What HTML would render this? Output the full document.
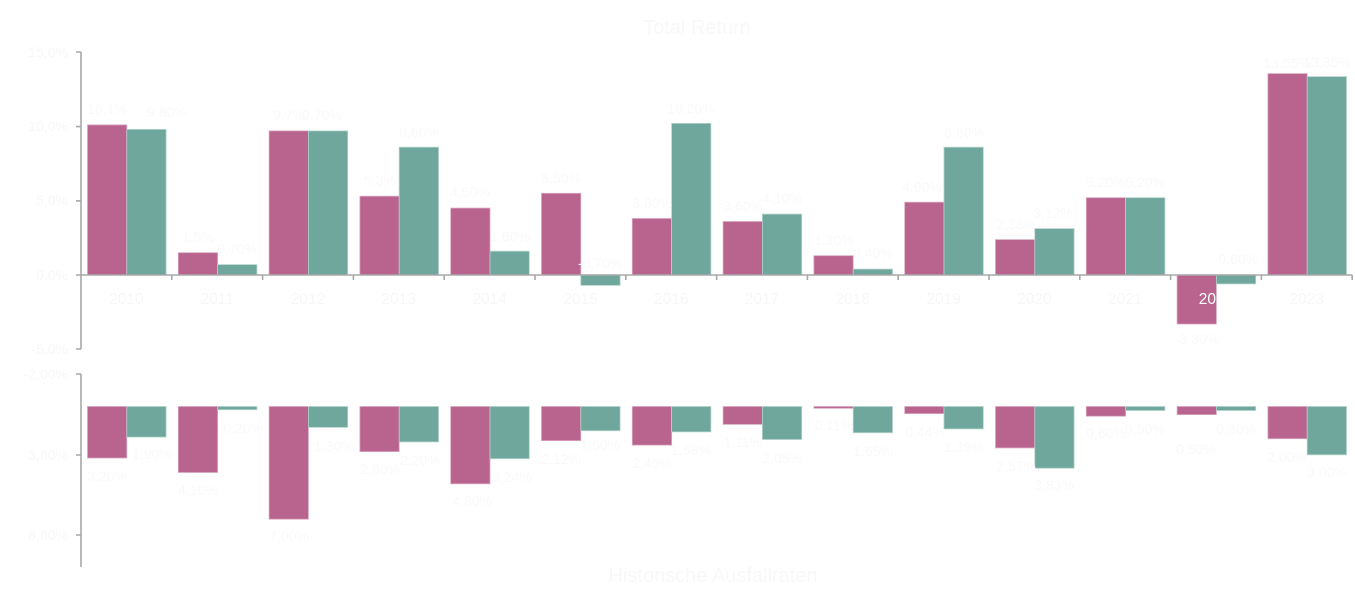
<!DOCTYPE html>
<html><head><meta charset="utf-8"><style>
html,body{margin:0;padding:0;background:#fff;}
svg{display:block;}
text{font-family:"Liberation Sans",sans-serif;}
.t{fill:#f8f8f8;font-size:20px;text-anchor:middle;}
.ax{fill:#f7f7f7;font-size:14px;text-anchor:end;}
.xl{fill:#f7f7f7;font-size:15.5px;text-anchor:middle;}
.dl{fill:#f9f9f9;font-size:14px;text-anchor:middle;}
.p{fill:#b8648f;stroke:#d9a6c0;stroke-width:0.8;}
.g{fill:#6fa79c;stroke:#b3d3cc;stroke-width:0.8;}
.a{stroke:#a8a8a8;stroke-width:1.6;fill:none;}
</style></head><body>
<svg width="1355" height="599" viewBox="0 0 1355 599" xmlns="http://www.w3.org/2000/svg">
<text class="t" x="697" y="34">Total Return</text>
<text class="t" x="713" y="582">Historische Ausfallraten</text>

<!-- top y axis -->
<path class="a" d="M81 52 V349 M76 52 H81 M76 126.6 H81 M76 200.9 H81 M76 275 H81 M76 349 H81"/>
<text class="ax" x="68" y="57">15,0%</text>
<text class="ax" x="68" y="131">10,0%</text>
<text class="ax" x="68" y="205">5,0%</text>
<text class="ax" x="68" y="280">0,0%</text>
<text class="ax" x="68" y="354">-5,0%</text>

<!-- top bars -->
<rect class="p" x="87.5" y="124.9" width="39.3" height="150.1"/><rect class="g" x="126.8" y="129.4" width="39.3" height="145.6"/>
<rect class="p" x="178.3" y="252.7" width="39.3" height="22.3"/><rect class="g" x="217.6" y="264.6" width="39.3" height="10.4"/>
<rect class="p" x="269.1" y="130.9" width="39.3" height="144.1"/><rect class="g" x="308.4" y="130.9" width="39.3" height="144.1"/>
<rect class="p" x="359.9" y="196.2" width="39.3" height="78.8"/><rect class="g" x="399.2" y="147.2" width="39.3" height="127.8"/>
<rect class="p" x="450.7" y="208.1" width="39.3" height="66.9"/><rect class="g" x="490.0" y="251.2" width="39.3" height="23.8"/>
<rect class="p" x="541.5" y="193.3" width="39.3" height="81.7"/><rect class="g" x="580.8" y="275" width="39.3" height="10.4"/>
<rect class="p" x="632.3" y="218.5" width="39.3" height="56.5"/><rect class="g" x="671.6" y="123.4" width="39.3" height="151.6"/>
<rect class="p" x="723.1" y="221.5" width="39.3" height="53.5"/><rect class="g" x="762.4" y="214.1" width="39.3" height="60.9"/>
<rect class="p" x="813.9" y="255.7" width="39.3" height="19.3"/><rect class="g" x="853.2" y="269.1" width="39.3" height="5.9"/>
<rect class="p" x="904.7" y="202.2" width="39.3" height="72.8"/><rect class="g" x="944.0" y="147.2" width="39.3" height="127.8"/>
<rect class="p" x="995.5" y="239.6" width="39.3" height="35.4"/><rect class="g" x="1034.8" y="228.6" width="39.3" height="46.4"/>
<rect class="p" x="1086.3" y="197.7" width="39.3" height="77.3"/><rect class="g" x="1125.6" y="197.7" width="39.3" height="77.3"/>
<rect class="p" x="1177.1" y="275" width="39.3" height="49"/><rect class="g" x="1216.4" y="275" width="39.3" height="8.9"/>
<rect class="p" x="1267.9" y="73.6" width="39.3" height="201.4"/><rect class="g" x="1307.2" y="76.6" width="39.3" height="198.4"/>

<!-- top x axis -->
<path class="a" d="M81 275 H1352.2 M171.8 275 V280 M262.6 275 V280 M353.4 275 V280 M444.2 275 V280 M535 275 V280 M625.8 275 V280 M716.6 275 V280 M807.4 275 V280 M898.2 275 V280 M989 275 V280 M1079.8 275 V280 M1170.6 275 V280 M1261.4 275 V280 M1352.2 275 V280"/>
<g class="xl">
<text x="126.4" y="304">2010</text><text x="217.2" y="304">2011</text><text x="308" y="304">2012</text><text x="398.8" y="304">2013</text>
<text x="489.6" y="304">2014</text><text x="580.4" y="304">2015</text><text x="671.2" y="304">2016</text><text x="762" y="304">2017</text>
<text x="852.8" y="304">2018</text><text x="943.6" y="304">2019</text><text x="1034.4" y="304">2020</text><text x="1125.2" y="304">2021</text>
<text x="1216" y="304" style="fill:#ffffff">2022</text><text x="1306.8" y="304">2023</text>
</g>

<!-- top data labels -->
<g class="dl">
<text x="107" y="114">10,1%</text><text x="167" y="117">9,80%</text>
<text x="198" y="242">1,5%</text><text x="237" y="254">0,70%</text>
<text x="289" y="120">9,7%</text><text x="322" y="120">9,70%</text>
<text x="380" y="185">5,3%</text><text x="419" y="137">8,60%</text>
<text x="470" y="197">4,50%</text><text x="510" y="241">1,60%</text>
<text x="561" y="183">5,50%</text><text x="600" y="268">-0,70%</text>
<text x="652" y="208">3,80%</text><text x="691" y="113">10,20%</text>
<text x="743" y="211">3,60%</text><text x="782" y="203">4,10%</text>
<text x="834" y="245">1,30%</text><text x="873" y="258">0,40%</text>
<text x="922" y="192">4,90%</text><text x="964" y="137">8,60%</text>
<text x="1016" y="229">2,38%</text><text x="1053" y="218">3,12%</text>
<text x="1106" y="187">5,20%</text><text x="1145" y="187">5,20%</text>
<text x="1197" y="344">-3,30%</text><text x="1236" y="264">-0,60%</text>
<text x="1287" y="68">13,55%</text><text x="1327" y="67">13,35%</text>
</g>

<!-- bottom y axis -->
<path class="a" d="M81 374 V567 M76 374 H81 M76 455 H81 M76 535 H81"/>
<text class="ax" x="68" y="379">-2,00%</text>
<text class="ax" x="68" y="460">3,00%</text>
<text class="ax" x="68" y="540">8,00%</text>

<!-- bottom bars -->
<rect class="p" x="87.5" y="406.5" width="39.3" height="51.5"/><rect class="g" x="126.8" y="406.5" width="39.3" height="30.6"/>
<rect class="p" x="178.3" y="406.5" width="39.3" height="66"/><rect class="g" x="217.6" y="406.5" width="39.3" height="3.2"/>
<rect class="p" x="269.1" y="406.5" width="39.3" height="112.7"/><rect class="g" x="308.4" y="406.5" width="39.3" height="20.9"/>
<rect class="p" x="359.9" y="406.5" width="39.3" height="45.1"/><rect class="g" x="399.2" y="406.5" width="39.3" height="35.4"/>
<rect class="p" x="450.7" y="406.5" width="39.3" height="77.3"/><rect class="g" x="490.0" y="406.5" width="39.3" height="52.2"/>
<rect class="p" x="541.5" y="406.5" width="39.3" height="34.1"/><rect class="g" x="580.8" y="406.5" width="39.3" height="24.2"/>
<rect class="p" x="632.3" y="406.5" width="39.3" height="38.6"/><rect class="g" x="671.6" y="406.5" width="39.3" height="25.4"/>
<rect class="p" x="723.1" y="406.5" width="39.3" height="17.9"/><rect class="g" x="762.4" y="406.5" width="39.3" height="33"/>
<rect class="p" x="813.9" y="406.5" width="39.3" height="1.8"/><rect class="g" x="853.2" y="406.5" width="39.3" height="26.2"/>
<rect class="p" x="904.7" y="406.5" width="39.3" height="7.1"/><rect class="g" x="944.0" y="406.5" width="39.3" height="22.4"/>
<rect class="p" x="995.5" y="406.5" width="39.3" height="41.4"/><rect class="g" x="1034.8" y="406.5" width="39.3" height="61.7"/>
<rect class="p" x="1086.3" y="406.5" width="39.3" height="9.7"/><rect class="g" x="1125.6" y="406.5" width="39.3" height="4"/>
<rect class="p" x="1177.1" y="406.5" width="39.3" height="8.1"/><rect class="g" x="1216.4" y="406.5" width="39.3" height="4"/>
<rect class="p" x="1267.9" y="406.5" width="39.3" height="32.2"/><rect class="g" x="1307.2" y="406.5" width="39.3" height="48.3"/>

<!-- bottom data labels -->
<g class="dl">
<text x="107" y="481">3,20%</text><text x="152" y="459">1,90%</text>
<text x="198" y="495">4,10%</text><text x="243" y="433">0,20%</text>
<text x="289" y="541">7,00%</text><text x="334" y="451">1,30%</text>
<text x="380" y="474">2,80%</text><text x="420" y="465">2,20%</text>
<text x="472" y="506">4,80%</text><text x="512" y="482">3,24%</text>
<text x="561" y="464">2,12%</text><text x="600" y="450">1,50%</text>
<text x="652" y="468">2,40%</text><text x="691" y="455">1,58%</text>
<text x="743" y="447">1,11%</text><text x="782" y="463">2,05%</text>
<text x="834" y="430">0,11%</text><text x="873" y="456">1,65%</text>
<text x="925" y="437">0,44%</text><text x="964" y="452">1,39%</text>
<text x="1016" y="471">2,57%</text><text x="1054" y="490">3,83%</text>
<text x="1106" y="438">0,60%</text><text x="1145" y="434">0,50%</text>
<text x="1196" y="454">0,50%</text><text x="1236" y="434">0,30%</text>
<text x="1287" y="462">2,00%</text><text x="1327" y="477">3,00%</text>
</g>
</svg>
</body></html>
